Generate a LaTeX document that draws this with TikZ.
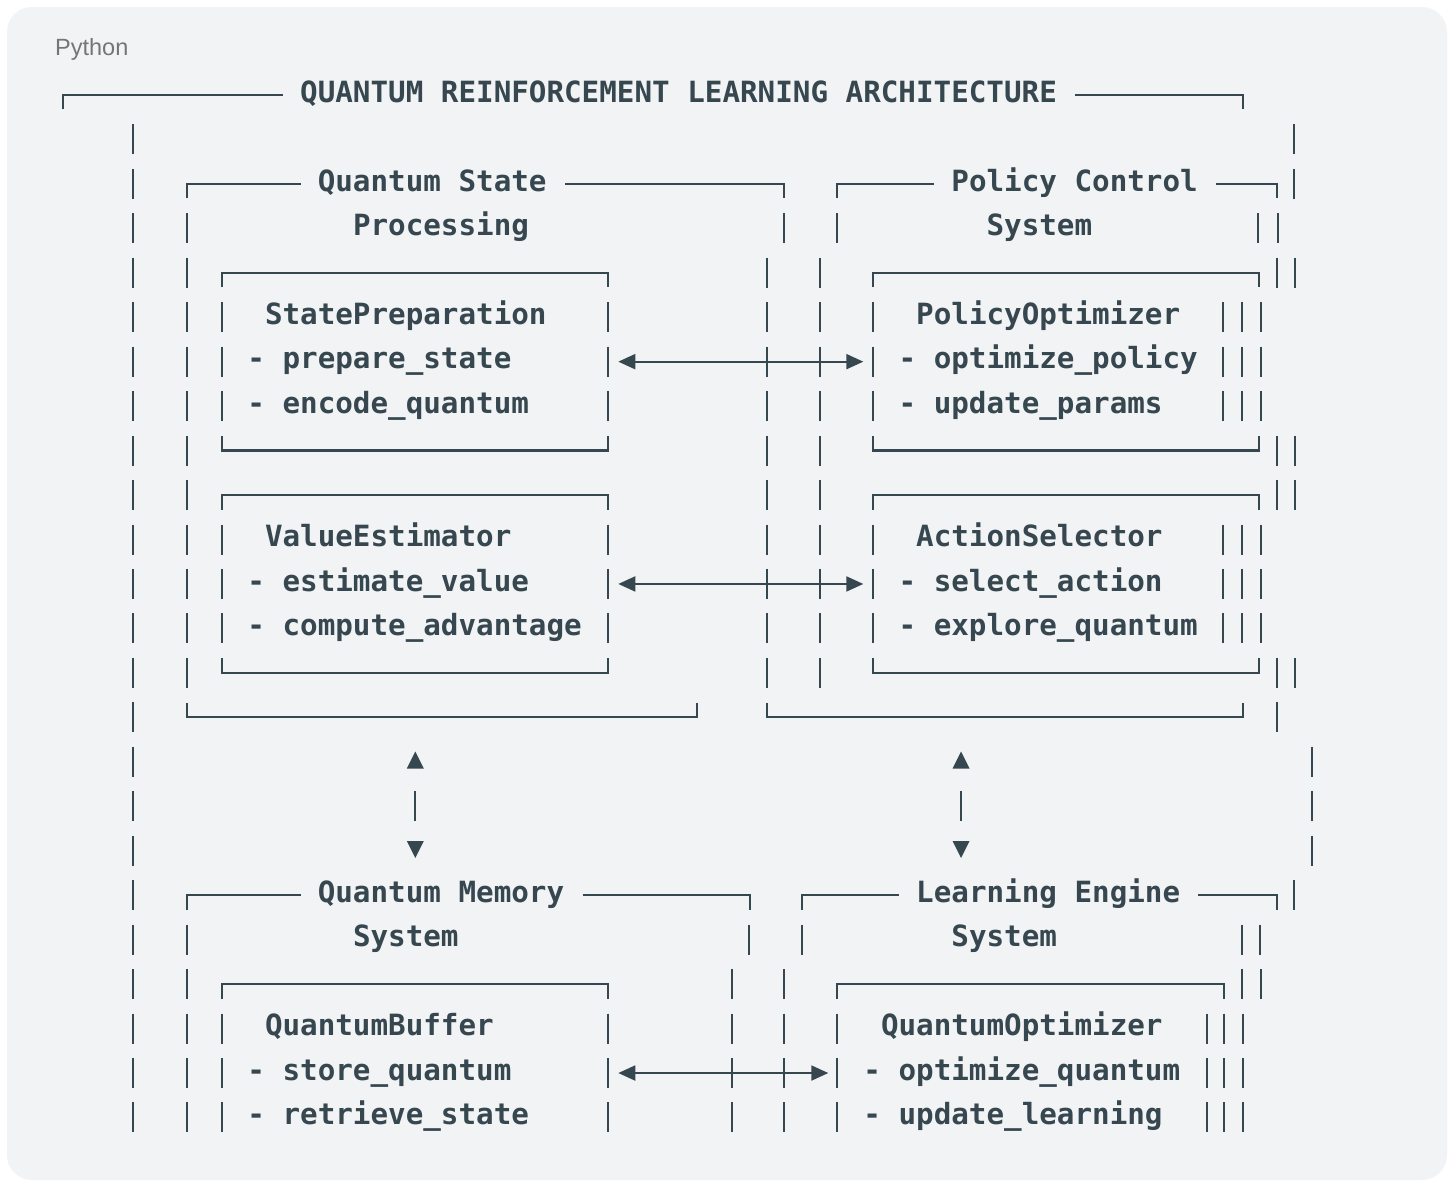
\documentclass[tikz,border=0pt]{standalone}
\usepackage{fontspec}
\setmainfont{Liberation Sans}
\newfontfamily\codefont{DejaVu Sans Mono}
\usetikzlibrary{arrows.meta}
\definecolor{ink}{HTML}{37474F}
\definecolor{panel}{HTML}{F1F3F5}
\definecolor{lbl}{HTML}{757575}
\newcommand\codeline[4]{\node[txt] (#1) at ({300+17.6*(#2)},{ry(#3)+7.3}) {#4};}
\newcommand\topbox[3]{\draw[bx] (#1,{ry(#3)+14.5}) -- (#1,{ry(#3)}) -- (#2,{ry(#3)}) -- (#2,{ry(#3)+14.5});}
\newcommand\botbox[3]{\draw[bx] (#1,{ry(#3)-14.5}) -- (#1,{ry(#3)}) -- (#2,{ry(#3)}) -- (#2,{ry(#3)-14.5});}
\begin{document}
\begin{tikzpicture}[x=1pt,y=-1pt,
  declare function={ry(\r)=94.9+44.46*\r;},
  bx/.style={draw=ink, line width=2.2pt},
  harrow/.style={draw=ink, line width=2pt, {Triangle[length=17pt,width=15pt]}-{Triangle[length=17pt,width=15pt]}},
  txt/.style={font=\codefont\bfseries\fontsize{29.23}{35}\selectfont, text=ink, inner sep=0pt, anchor=base west}]
\useasboundingbox (0,0) rectangle (1453,1183);
\fill[white] (0,0) rectangle (1453,1183);
\fill[panel, rounded corners=25pt] (7,7) rectangle (1447,1180);
\node[font=\fontsize{23.5}{28}\selectfont, text=lbl, inner sep=0pt, anchor=base west] (lang) at (55,55) {Python};

% texts
\codeline{title}{0}{0}{QUANTUM REINFORCEMENT LEARNING ARCHITECTURE}
\codeline{qsp1}{1}{2}{Quantum State}
\codeline{qsp2}{3}{3}{Processing}
\codeline{pcs1}{37}{2}{Policy Control}
\codeline{pcs2}{39}{3}{System}
\codeline{sp0}{-2}{5}{StatePreparation}
\codeline{sp1}{-3}{6}{- prepare\_state}
\codeline{sp2}{-3}{7}{- encode\_quantum}
\codeline{po0}{35}{5}{PolicyOptimizer}
\codeline{po1}{34}{6}{- optimize\_policy}
\codeline{po2}{34}{7}{- update\_params}
\codeline{ve0}{-2}{10}{ValueEstimator}
\codeline{ve1}{-3}{11}{- estimate\_value}
\codeline{ve2}{-3}{12}{- compute\_advantage}
\codeline{as0}{35}{10}{ActionSelector}
\codeline{as1}{34}{11}{- select\_action}
\codeline{as2}{34}{12}{- explore\_quantum}
\codeline{qms1}{1}{18}{Quantum Memory}
\codeline{qms2}{3}{19}{System}
\codeline{les1}{35}{18}{Learning Engine}
\codeline{les2}{37}{19}{System}
\codeline{qb0}{-2}{21}{QuantumBuffer}
\codeline{qb1}{-3}{22}{- store\_quantum}
\codeline{qb2}{-3}{23}{- retrieve\_state}
\codeline{qo0}{33}{21}{QuantumOptimizer}
\codeline{qo1}{32}{22}{- optimize\_quantum}
\codeline{qo2}{32}{23}{- update\_learning}

% vertical bars
\foreach \r/\xs in {
  1/{133.3,1294.3},
  2/{133.3,1294.3},
  3/{133.3,186.7,784.3,837.3,1258.3,1278.3},
  4/{133.3,186.7,766.7,820,1277.3,1295},
  5/{133.3,186.7,221.7,608.3,766.7,820,872.7,1223.3,1241.7,1260.7},
  6/{133.3,186.7,221.7,608.3,766.7,820,872.7,1223.3,1241.7,1260.7},
  7/{133.3,186.7,221.7,608.3,766.7,820,872.7,1223.3,1241.7,1260.7},
  8/{133.3,186.7,766.7,820,1277.3,1295},
  9/{133.3,186.7,766.7,820,1277.3,1295},
  10/{133.3,186.7,221.7,608.3,766.7,820,872.7,1223.3,1241.7,1260.7},
  11/{133.3,186.7,221.7,608.3,766.7,820,872.7,1223.3,1241.7,1260.7},
  12/{133.3,186.7,221.7,608.3,766.7,820,872.7,1223.3,1241.7,1260.7},
  13/{133.3,186.7,766.7,820,1277.3,1295},
  14/{133.3,1277.3},
  15/{133.3,1312.3},
  16/{133.3,415.3,961,1312.3},
  17/{133.3,1312.3},
  18/{133.3,1294.3},
  19/{133.3,186.7,749.3,802.3,1241.7,1260},
  20/{133.3,186.7,731.7,784.3,1241.7,1261},
  21/{133.3,186.7,221.7,608.3,731.7,784.3,837.3,1206.7,1224.3,1242.7},
  22/{133.3,186.7,221.7,608.3,731.7,784.3,837.3,1206.7,1224.3,1242.7},
  23/{133.3,186.7,221.7,608.3,731.7,784.3,837.3,1206.7,1224.3,1242.7}}
  {\foreach \x in \xs {\draw[bx] (\x,{ry(\r)-15}) -- (\x,{ry(\r)+15});}}

% box lines with labels
\draw[bx] (63.3,{ry(0)+14.5}) -- (63.3,{ry(0)}) -- (283.3,{ry(0)});
\draw[bx] (1075,{ry(0)}) -- (1242.7,{ry(0)}) -- (1242.7,{ry(0)+14.5});
\draw[bx] (186.7,{ry(2)+14.5}) -- (186.7,{ry(2)}) -- (301,{ry(2)});
\draw[bx] (565,{ry(2)}) -- (784.3,{ry(2)}) -- (784.3,{ry(2)+14.5});
\draw[bx] (837.3,{ry(2)+14.5}) -- (837.3,{ry(2)}) -- (934,{ry(2)});
\draw[bx] (1216,{ry(2)}) -- (1276.7,{ry(2)}) -- (1276.7,{ry(2)+14.5});
\draw[bx] (186.7,{ry(18)+14.5}) -- (186.7,{ry(18)}) -- (301,{ry(18)});
\draw[bx] (582.7,{ry(18)}) -- (750,{ry(18)}) -- (750,{ry(18)+14.5});
\draw[bx] (802.3,{ry(18)+14.5}) -- (802.3,{ry(18)}) -- (899,{ry(18)});
\draw[bx] (1198.3,{ry(18)}) -- (1276.7,{ry(18)}) -- (1276.7,{ry(18)+14.5});

% inner boxes
\topbox{221.7}{608.3}{4}
\topbox{872.7}{1259.3}{4}
\botbox{221.7}{608.3}{8}
\botbox{872.7}{1259.3}{8}
\topbox{221.7}{608.3}{9}
\topbox{872.7}{1259.3}{9}
\botbox{221.7}{608.3}{13}
\botbox{872.7}{1259.3}{13}
\botbox{186.7}{696.7}{14}
\botbox{766.7}{1242.7}{14}
\topbox{221.7}{608.3}{20}
\topbox{837.3}{1224.3}{20}

% horizontal arrows
\coordinate (a6l) at (618.3,{ry(6)});
\coordinate (a6r) at (863.3,{ry(6)});
\coordinate (a11l) at (618.3,{ry(11)});
\coordinate (a11r) at (863.3,{ry(11)});
\coordinate (a22l) at (618.3,{ry(22)});
\coordinate (a22r) at (828.3,{ry(22)});
\draw[harrow] (a6l) -- (a6r);
\draw[harrow] (a11l) -- (a11r);
\draw[harrow] (a22l) -- (a22r);

% vertical arrow heads
\foreach \x in {415.3,961}{
  \fill[ink] (\x-8.5,768.5) -- (\x+8.5,768.5) -- (\x,751.5) -- cycle;
  \fill[ink] (\x-8.5,841) -- (\x+8.5,841) -- (\x,858) -- cycle;
}
\end{tikzpicture}
\end{document}
